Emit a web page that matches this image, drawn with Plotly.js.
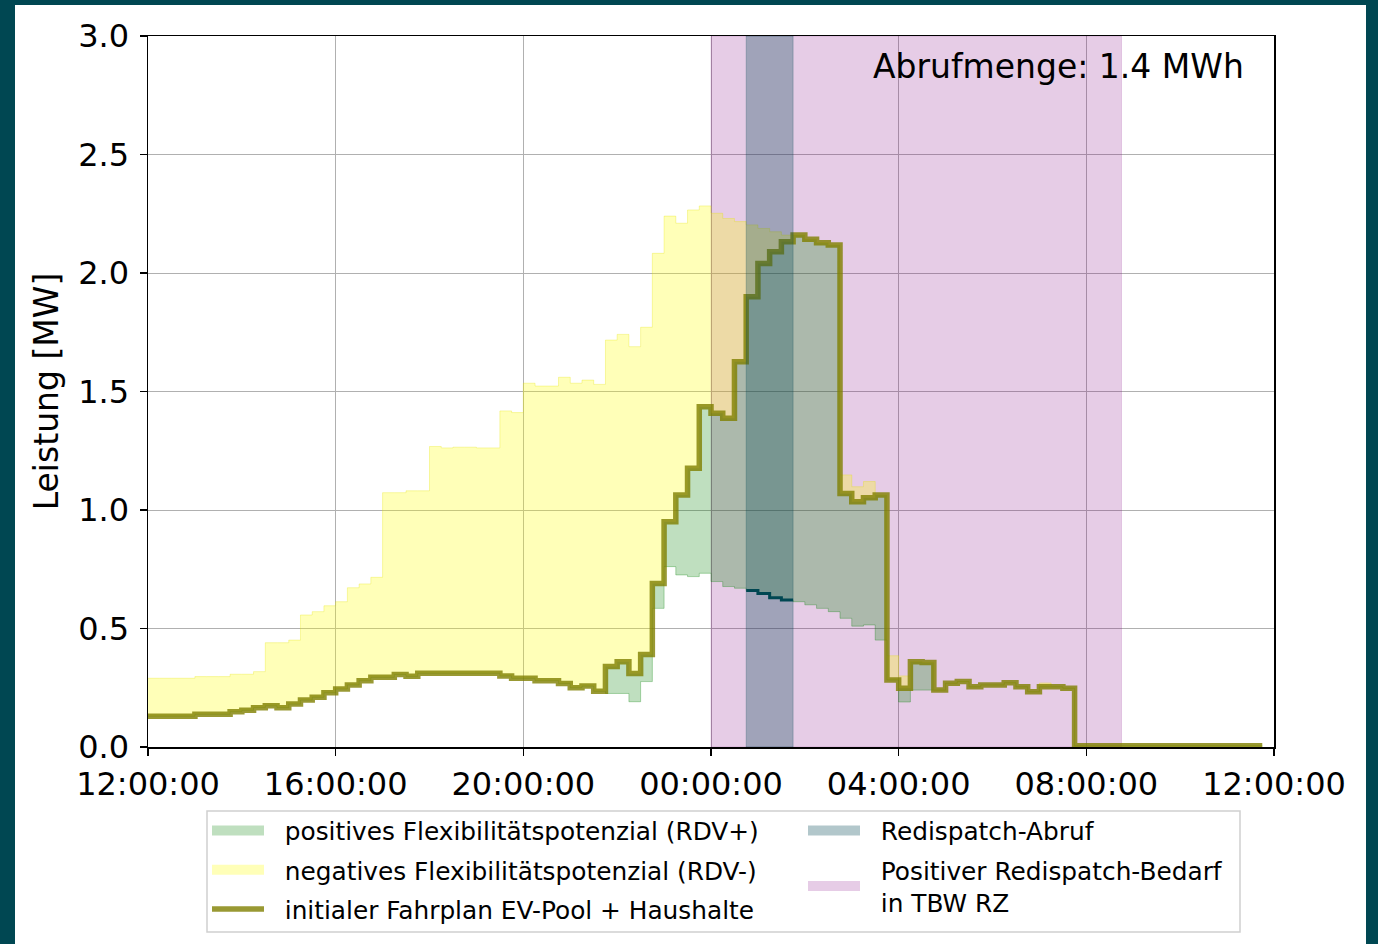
<!DOCTYPE html>
<html><head><meta charset="utf-8">
<script src="https://cdn.plot.ly/plotly-3.0.1.min.js"></script>
<style>
html,body{margin:0;padding:0;background:#004752;width:1378px;height:944px;overflow:hidden}
#chart{position:absolute;left:15px;top:5px;width:1351px;height:939px;background:#fff}
</style>
</head><body><div id="chart"></div>
<script>
// ---- data (15-minute resolution, 12:00 -> 11:45 next day) ----
const startTime = [2024, 0, 1, 12, 0];
const stepMinutes = 15;

// initial schedule EV pool + households [MW]
const baseSchedule = [
  0.13,0.13,0.13,0.13,0.138,0.138,0.138,0.149,0.155,0.166,0.174,0.166,0.181,0.198,0.21,0.229,
  0.245,0.262,0.28,0.294,0.294,0.306,0.298,0.311,0.311,0.311,0.311,0.311,0.311,0.311,0.30,0.29,
  0.29,0.28,0.28,0.268,0.25,0.257,0.235,0.34,0.36,0.31,0.39,0.69,0.95,1.063,1.176,1.436,
  1.408,1.387,1.626,1.90,2.04,2.09,2.132,2.16,2.142,2.128,2.118,1.07,1.035,1.052,1.063,0.283,
  0.248,0.36,0.357,0.24,0.269,0.276,0.254,0.262,0.262,0.271,0.254,0.233,0.254,0.254,0.248,0.005,
  0.005,0.005,0.005,0.005,0.005,0.005,0.005,0.005,0.005,0.005,0.005,0.005,0.005,0.005,0.005,0.005
];
// upper bound of negative flexibility (RDV-) [MW]
const upperBound = [
  0.29,0.29,0.29,0.29,0.297,0.297,0.297,0.307,0.307,0.318,0.44,0.44,0.451,0.557,0.571,0.596,
  0.613,0.672,0.688,0.716,1.073,1.073,1.081,1.081,1.268,1.262,1.265,1.265,1.262,1.262,1.418,1.411,
  1.535,1.523,1.523,1.56,1.535,1.548,1.53,1.717,1.741,1.689,1.771,2.083,2.24,2.21,2.266,2.283,
  2.252,2.23,2.217,2.203,2.188,2.174,2.16,2.16,2.142,2.128,2.118,1.148,1.098,1.12,1.063,0.385,
  0.30,0.36,0.357,0.24,0.269,0.276,0.254,0.262,0.262,0.271,0.254,0.233,0.27,0.254,0.248,0.005,
  0.005,0.005,0.005,0.005,0.005,0.005,0.005,0.005,0.005,0.005,0.005,0.005,0.005,0.005,0.005,0.005
];
// lower bound of positive flexibility (RDV+) [MW]
const lowerBound = [
  0.13,0.13,0.13,0.13,0.138,0.138,0.138,0.149,0.155,0.166,0.174,0.166,0.181,0.198,0.21,0.229,
  0.245,0.262,0.28,0.294,0.294,0.306,0.298,0.311,0.311,0.311,0.311,0.311,0.311,0.311,0.30,0.29,
  0.29,0.28,0.28,0.268,0.25,0.257,0.235,0.226,0.226,0.191,0.276,0.585,0.761,0.726,0.719,0.733,
  0.698,0.677,0.67,0.66,0.648,0.63,0.62,0.613,0.6,0.585,0.571,0.543,0.51,0.515,0.451,0.283,
  0.19,0.24,0.24,0.24,0.269,0.276,0.254,0.262,0.262,0.271,0.254,0.233,0.254,0.254,0.248,0.005,
  0.005,0.005,0.005,0.005,0.005,0.005,0.005,0.005,0.005,0.005,0.005,0.005,0.005,0.005,0.005,0.005
];

const bedarfPeriod = ['2024-01-02 00:00', '2024-01-02 08:45'];
const abrufPeriod = ['2024-01-02 00:45', '2024-01-02 01:45'];
const abrufmengeMWh = 1.4;
const axisRange = ['2024-01-01 12:00', '2024-01-02 12:00'];
const yTicks = [0, 0.5, 1.0, 1.5, 2.0, 2.5, 3.0];

const names = {
  pos: 'positives Flexibilitätspotenzial (RDV+)',
  neg: 'negatives Flexibilitätspotenzial (RDV-)',
  base: 'initialer Fahrplan EV-Pool + Haushalte',
  abruf: 'Redispatch-Abruf',
  bedarf: ['Positiver Redispatch-Bedarf', 'in TBW RZ']
};

const colors = {
  pos: 'rgba(0,128,0,0.25)', posEdge: 'rgba(0,128,0,0.3)',
  neg: 'rgba(255,255,0,0.28)', negEdge: 'rgba(230,230,0,0.3)',
  base: 'rgba(128,128,0,0.8)',
  abruf: 'rgba(0,71,82,0.3)', bedarf: 'rgba(128,0,128,0.2)',
  seg: '#004752'
};

// ---- build ----
function pad(n){return String(n).padStart(2,'0');}
function fmt(ms){const d=new Date(ms);return d.getUTCFullYear()+'-'+pad(d.getUTCMonth()+1)+'-'+pad(d.getUTCDate())+' '+pad(d.getUTCHours())+':'+pad(d.getUTCMinutes());}
const t0 = Date.UTC(...startTime);
const times = baseSchedule.map((_, i) => fmt(t0 + i*stepMinutes*60000));

function band(period){return {x:[period[0],period[0],period[1],period[1],period[0]], y:[0,3,3,0,0]};}

// dark segment of lower bound during the redispatch call
const segX = [], segY = [];
times.forEach((t,i)=>{ if (t >= abrufPeriod[0] && t < abrufPeriod[1]) { segX.push(t); segY.push(lowerBound[i]); } });
segX.push(abrufPeriod[1]); segY.push(segY[segY.length-1]);

const FONT = 'DejaVu Sans, sans-serif';
const GAP = '\u00a0\u00a0';
const bBedarf = band(bedarfPeriod), bAbruf = band(abrufPeriod);

function swatch(name, color, legend, rank, group){
  return {x:[null], y:[null], type:'scatter', mode:'lines', line:{color:color, width:20},
    name:name, legend:legend, legendrank:rank, legendgroup:group, hoverinfo:'skip'};
}

const traces = [
  {x:bBedarf.x, y:bBedarf.y, type:'scatter', mode:'lines', fill:'toself', fillcolor:colors.bedarf,
   line:{color:'rgba(128,0,128,0.15)', width:1}, showlegend:false, hoverinfo:'skip'},
  {x:times, y:lowerBound, type:'scatter', mode:'lines', line:{shape:'hv', color:colors.posEdge, width:1}, showlegend:false, hoverinfo:'skip'},
  {x:times, y:baseSchedule, type:'scatter', mode:'lines', fill:'tonexty', fillcolor:colors.pos,
   line:{shape:'hv', color:colors.pos, width:0}, showlegend:false, hoverinfo:'skip'},
  {x:times, y:upperBound, type:'scatter', mode:'lines', fill:'tonexty', fillcolor:colors.neg,
   line:{shape:'hv', color:colors.negEdge, width:1}, showlegend:false, hoverinfo:'skip'},
  {x:times, y:baseSchedule, type:'scatter', mode:'lines', line:{shape:'hv', color:colors.base, width:5.5},
   name:GAP+names.base, legendgroup:'c', legendrank:3, hoverinfo:'skip'},
  {x:bAbruf.x, y:bAbruf.y, type:'scatter', mode:'lines', fill:'toself', fillcolor:colors.abruf,
   line:{color:'rgba(0,71,82,0.25)', width:1}, showlegend:false, hoverinfo:'skip'},
  {x:segX, y:segY, type:'scatter', mode:'lines', line:{shape:'hv', color:colors.seg, width:3}, showlegend:false, hoverinfo:'skip'},
  swatch(GAP+names.pos, colors.pos, 'legend', 1, 'a'),
  swatch(GAP+names.neg, colors.neg, 'legend', 2, 'b'),
  swatch(GAP+names.abruf, colors.abruf, 'legend2', 1, 'd'),
  swatch(names.bedarf.map(s=>GAP+s).join('<br>'), colors.bedarf, 'legend2', 2, 'e')
];

const plotL=148, plotR=1274, plotT=36, plotB=747, plotW=plotR-plotL, plotH=plotB-plotT;
const px=(X)=>(X-plotL)/plotW, py=(Y)=>1-(Y-plotT)/plotH;

const legendCommon = {xanchor:'left', yanchor:'top', bgcolor:'rgba(0,0,0,0)', borderwidth:0,
  font:{size:24.8, family:FONT, color:'#000'}, itemwidth:52, traceorder:'grouped', tracegroupgap:4};

const layout = {
  width:1351, height:939,
  margin:{l:133, r:92, t:31, b:197},
  paper_bgcolor:'#ffffff', plot_bgcolor:'#ffffff',
  font:{family:FONT, color:'#000', size:32},
  showlegend:true,
  xaxis:{type:'date', range:axisRange, tick0:axisRange[0], dtick:4*3600000, tickformat:'%H:%M:%S',
    showgrid:true, gridcolor:'#b0b0b0', gridwidth:1, showline:true, linecolor:'#000', linewidth:1.5, mirror:true,
    ticks:'outside', ticklen:7, tickwidth:1.5, tickcolor:'#000', tickfont:{size:32}, zeroline:false, ticklabelstandoff:1},
  yaxis:{range:[0,3], tickvals:yTicks, tickformat:'.1f', showgrid:true, gridcolor:'#b0b0b0', gridwidth:1,
    showline:true, linecolor:'#000', linewidth:1.5, mirror:true, ticks:'outside', ticklen:7, tickwidth:1.5, tickcolor:'#000',
    tickfont:{size:32}, zeroline:false, ticklabelstandoff:4, title:{text:'Leistung [MW]', font:{size:33}, standoff:9}},
  legend:Object.assign({x:px(207), y:py(808)}, legendCommon),
  legend2:Object.assign({x:px(803), y:py(808)}, legendCommon),
  shapes:[{type:'rect', xref:'paper', yref:'paper', x0:px(207), x1:px(1240), y0:py(932), y1:py(811),
    line:{color:'#d0d0d0', width:1.5}, fillcolor:'rgba(0,0,0,0)', layer:'below'}],
  annotations:[{xref:'paper', yref:'paper', x:px(1246), y:py(66), xanchor:'right', yanchor:'middle', showarrow:false,
    text:'Abrufmenge: ' + abrufmengeMWh.toFixed(1) + ' MWh', font:{size:33, family:FONT, color:'#000'}}]
};

Plotly.newPlot('chart', traces, layout, {displayModeBar:false, staticPlot:true});
</script>
</body></html>
